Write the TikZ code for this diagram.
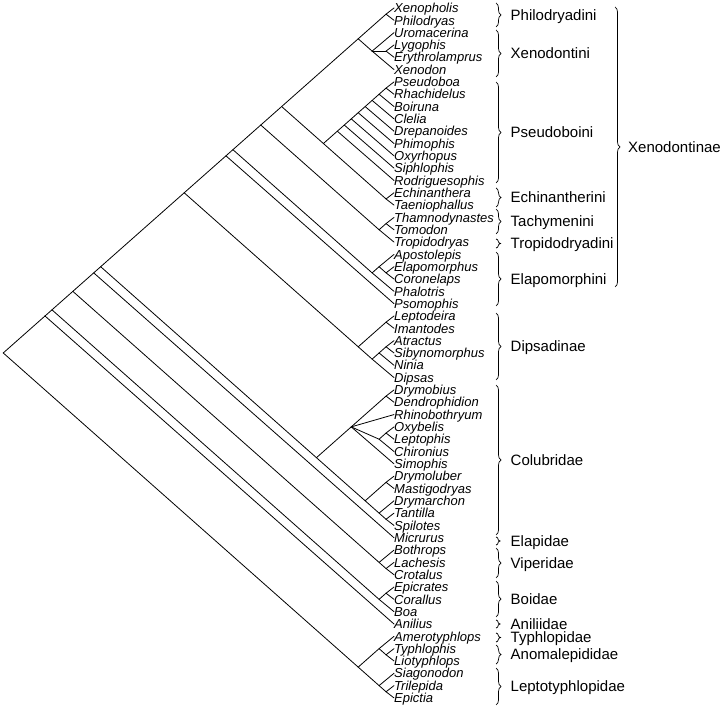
\documentclass[tikz,border=0pt]{standalone}
\usepackage{fontspec}
\setmainfont{Liberation Sans}
\usetikzlibrary{decorations.pathreplacing}

\tikzset{
  leaf/.style={anchor=west, inner sep=0pt, text height=9.4pt, text depth=0pt,
    font=\fontsize{13}{13}\selectfont\itshape},
  taxon/.style={anchor=west, inner sep=0pt, text height=10.8pt, text depth=0pt,
    font=\fontsize{15}{15}\selectfont},
  branch/.style={line width=0.8pt, line cap=round, line join=round},
  grp/.style={line width=0.7pt, decorate, decoration={brace, amplitude=#1}},
  grp/.default=5pt
}

\begin{document}
\begin{tikzpicture}[x=1pt, y=-1pt]
\useasboundingbox (0,0) rectangle (723,708);

% Genera
\foreach \g [count=\i] in {Xenopholis, Philodryas, Uromacerina, Lygophis,
    Erythrolamprus, Xenodon, Pseudoboa, Rhachidelus, Boiruna, Clelia,
    Drepanoides, Phimophis, Oxyrhopus, Siphlophis, Rodriguesophis,
    Echinanthera, Taeniophallus, Thamnodynastes, Tomodon, Tropidodryas,
    Apostolepis, Elapomorphus, Coronelaps, Phalotris, Psomophis, Leptodeira,
    Imantodes, Atractus, Sibynomorphus, Ninia, Dipsas, Drymobius,
    Dendrophidion, Rhinobothryum, Oxybelis, Leptophis, Chironius, Simophis,
    Drymoluber, Mastigodryas, Drymarchon, Tantilla, Spilotes, Micrurus,
    Bothrops, Lachesis, Crotalus, Epicrates, Corallus, Boa, Anilius,
    Amerotyphlops, Typhlophis, Liotyphlops, Siagonodon, Trilepida, Epictia}
  \node[leaf] (\g) at (394,{8+12.32*(\i-1)}) {\g};

% Clades (first and last tip)
\foreach \c/\i/\j in {root/1/57, scol/52/57, anom/52/54, anomB/53/54,
    lepto/55/57, leptoB/56/57, aleth/1/51, macro/1/50, boid/48/50,
    boidB/48/49, c47/1/47, viper/45/47, viperB/46/47, elap/1/44,
    colsup/1/43, colub/32/43, colA/32/38, colAa/32/33, colAb/35/37,
    colAc/35/36, colB/39/43, colBa/39/40, colBb/41/43, colBc/42/43,
    dips/1/31, dipsin/26/31, dipsA/26/27, dipsB/28/31, dipsC/28/30,
    dipsD/28/29, xeno/1/25, xenoA/1/24, elapo/21/24, elapoA/21/23,
    elapoB/22/23, xenoB/1/20, tachy/18/20, tachyA/18/19, xenoC/1/17,
    xenoD/1/6, philo/1/2, xdt/3/6, xdtA/4/5, pseu/7/17, echin/16/17,
    pb15/7/15, pb14/7/14, pb13/7/13, pb12/7/12, pb11/7/11, pb10/7/10,
    pb9/7/9, pb8/7/8}
  \coordinate (\c) at ({393-6.96*(\j-\i)}, {8+6.16*(\i+\j-2)});

% Internal branches
\foreach \a/\b in {root/scol, root/aleth, scol/anom, scol/lepto, anom/anomB,
    lepto/leptoB, aleth/macro, macro/boid, boid/boidB, macro/c47, c47/viper,
    viper/viperB, c47/elap, elap/colsup, colsup/dips, colsup/colub,
    colub/colA, colub/colB, colA/colAa, colA/colAb, colAb/colAc, colB/colBa,
    colB/colBb, colBb/colBc, dips/xeno, dips/dipsin, dipsin/dipsA,
    dipsin/dipsB, dipsB/dipsC, dipsC/dipsD, xeno/xenoA, xenoA/xenoB,
    xenoA/elapo, elapo/elapoA, elapoA/elapoB, xenoB/xenoC, xenoB/tachy,
    tachy/tachyA, xenoC/xenoD, xenoC/pseu, xenoD/philo, xenoD/xdt, xdt/xdtA,
    pseu/pb15, pseu/echin, pb15/pb14, pb14/pb13, pb13/pb12, pb12/pb11,
    pb11/pb10, pb10/pb9, pb9/pb8}
  \draw[branch] (\a) -- (\b);

% Terminal branches
\foreach \a/\b in {anom/Amerotyphlops, anomB/Typhlophis, anomB/Liotyphlops,
    lepto/Siagonodon, leptoB/Trilepida, leptoB/Epictia, aleth/Anilius,
    boid/Boa, boidB/Epicrates, boidB/Corallus, viper/Bothrops,
    viperB/Lachesis, viperB/Crotalus, elap/Micrurus, colA/Rhinobothryum,
    colA/Simophis, colAa/Drymobius, colAa/Dendrophidion, colAb/Chironius,
    colAc/Oxybelis, colAc/Leptophis, colBa/Drymoluber, colBa/Mastigodryas,
    colBb/Drymarchon, colBc/Tantilla, colBc/Spilotes, dipsA/Leptodeira,
    dipsA/Imantodes, dipsB/Dipsas, dipsC/Ninia, dipsD/Atractus,
    dipsD/Sibynomorphus, xeno/Psomophis, elapo/Phalotris,
    elapoA/Apostolepis, elapoB/Elapomorphus, elapoB/Coronelaps,
    tachy/Tropidodryas, tachyA/Thamnodynastes, tachyA/Tomodon,
    philo/Xenopholis, philo/Philodryas, xdt/Uromacerina, xdt/Xenodon,
    xdtA/Lygophis, xdtA/Erythrolamprus, echin/Echinanthera,
    echin/Taeniophallus, pb15/Rodriguesophis, pb14/Siphlophis,
    pb13/Oxyrhopus, pb12/Phimophis, pb11/Drepanoides, pb10/Clelia,
    pb9/Boiruna, pb8/Pseudoboa, pb8/Rhachidelus}
  \draw[branch] (\a) -- (\b.west);

% Tribes and families
\foreach \nm/\top/\bot in {Philodryadini/3/27, Xenodontini/30/77,
    Pseudoboini/82/183, Echinantherini/188/207, Tachymenini/209/234,
    Tropidodryadini/239/248, Elapomorphini/252/306, Dipsadinae/313/380,
    Colubridae/385/535, Elapidae/537/545, Viperidae/548/578,
    Boidae/581/617, Aniliidae/620/628, Typhlopidae/633/642,
    Anomalepididae/645/664, Leptotyphlopidae/668/705} {
  \pgfmathsetmacro\amp{min(5,(\bot-\top)/2)}
  \draw[grp=\amp pt] (496,\top) -- (496,\bot);
  \node[taxon] (\nm) at (510.5,{(\top+\bot)/2}) {\nm};
}

% Subfamily
\draw[grp] (615,7) -- (615,287);
\node[taxon] (Xenodontinae) at (628,147) {Xenodontinae};

\end{tikzpicture}
\end{document}
